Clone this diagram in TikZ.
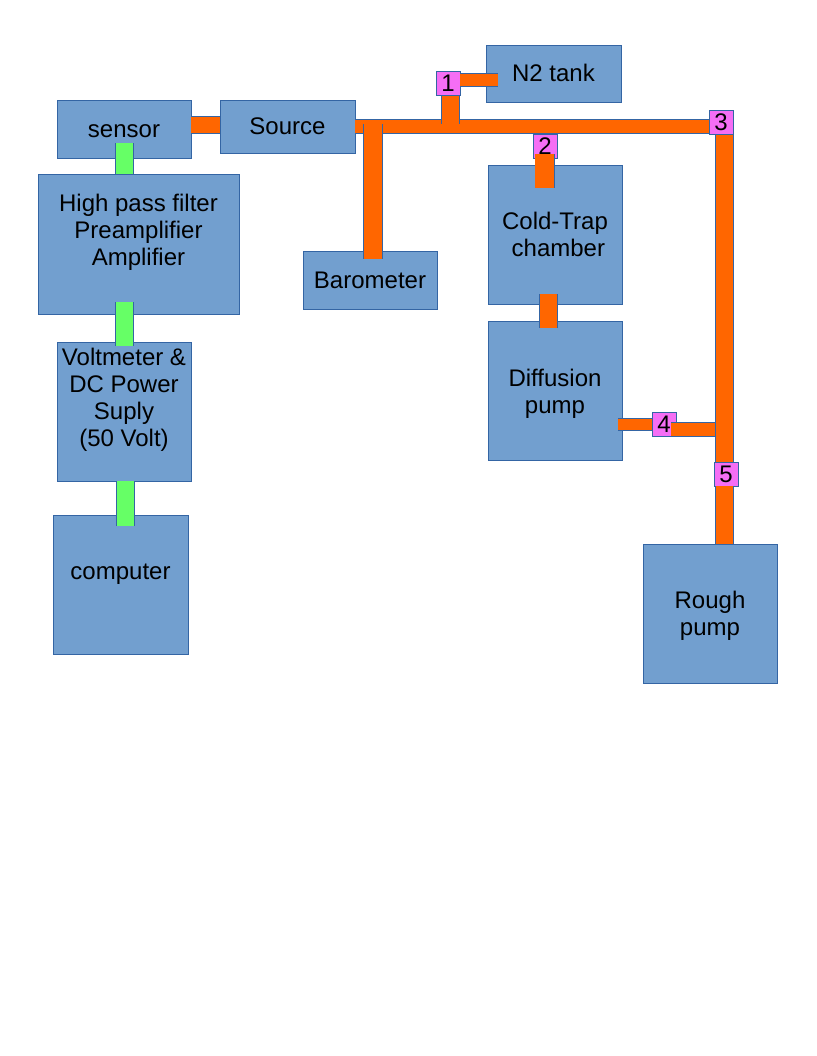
\documentclass[tikz,border=0pt]{standalone}
\usepackage{fontspec}
\setmainfont{Liberation Sans}
\usepackage{tikz}
\usetikzlibrary{positioning}
\usetikzlibrary{calc}
\definecolor{boxblue}{HTML}{729FCF}
\definecolor{boxedge}{HTML}{3465A4}
\definecolor{pipeorange}{HTML}{FF6600}
\definecolor{pipegreen}{HTML}{66FF66}
\definecolor{valvepink}{HTML}{F56EF5}
\newcommand{\ls}{\rule[-5.1pt]{0pt}{26.8pt}} % ascent + descent of one text line

\begin{document}
\begin{tikzpicture}[
            x = 1pt, y = -1pt, % pixel units, y going down
            node distance = 17pt, % gap between stacked boxes
            font = \fontsize{24}{27}\selectfont,
            opipe/.style = {draw = boxedge, line width = 0.6pt, double = pipeorange, double distance = #1},
            opipe/.default = 17.8pt,
            gpipe/.style = {draw = boxedge, line width = 0.6pt, double = pipegreen, double distance = 17.8pt}
        ]

        \tikzstyle{unit}=[
            draw = boxedge,
            fill = boxblue,
            line width = 0.8pt,
            inner sep = 0pt,
            align = center,
            minimum width = 134pt,
            minimum height = 139pt
        ]
        \tikzstyle{valve}=[
            draw = boxedge,
            fill = valvepink,
            line width = 0.8pt,
            inner sep = 0pt,
            minimum size = 24pt
        ]

        \useasboundingbox (0,0) rectangle (816,1056);

        % vacuum side
        \node[unit, minimum width = 135pt, minimum height = 53pt] (src) at (287.5,126.5) {\ls Source};
        \node[unit, minimum height = 58pt] (sensor) at (124,129) {\ls sensor};
        \node[unit, minimum width = 135pt, minimum height = 57pt] (n2) at (553.5,73.5) {\ls N2 tank};
        \node[unit, minimum height = 58pt] (baro) at (370,280) {\ls Barometer};
        \node[unit] (ct) at (555,234.5) {\ls Cold-Trap\\\hspace*{6.7pt}chamber\ls};
        \node[unit] (diff) [below = of ct] {\ls Diffusion\\pump\ls};
        \node[unit] (rough) at (710,613.5) {\ls Rough\\pump\ls};

        % electronics
        \node[unit, minimum width = 201pt, minimum height = 140pt] (hpf) at (138.5,244) {\ls High pass filter\\Preamplifier\\Amplifier\\\ls};
        \node[unit] (volt) at (124,411.5) {\ls Voltmeter \&\\DC Power\\Suply\\(50 Volt)\\\ls};
        \node[unit, minimum width = 135pt] (comp) at (120.5,584.5) {\ls computer\\\ls};

        % valves
        \node[valve] (v1) at (448,83.5) {1};
        \node[valve] (v2) at (545,146) {2};
        \node[valve] (v3) at (721,122.5) {3};
        \node[valve] (v4) at (664,424) {4};
        \node[valve] (v5) at (726,474) {5};

        % orange pipes
        \draw[opipe = 13.8pt] (src.east) -- (src.east -| v3.west);
        \draw[opipe = 16.8pt] ($(sensor.east)+(0,-4)$) -- ($(src.west)+(0,-1.5)$);
        \draw[opipe] ($(v1.south)+(2.5,0)$) -- ($(v1.south |- src.east)+(2.5,-2.5)$);
        \draw[opipe = 12.8pt] ($(v1.east)+(0,-3.5)$) -- ($(v1.east -| n2.west)+(12,-3.5)$);
        \draw[opipe = 18.8pt] ($(baro.north)+(3,8)$) -- ($(baro.north |- src.east)+(3,-2.5)$);
        \draw[opipe = 18.8pt] ($(v2.south)+(-0.5,-4)$) -- ($(v2.south |- ct.north)+(-0.5,23)$);
        \draw[opipe] ($(v5.north |- v3.south)+(-1.5,0)$) -- ($(v5.north)+(-1.5,0)$);
        \draw[opipe] ($(v5.south)+(-1.5,0)$) -- ($(v5.south |- rough.north)+(-1.5,0)$);
        \draw[opipe] ($(ct.south)+(-6.5,-10)$) -- ($(diff.north)+(-6.5,7)$);
        \draw[opipe = 11.8pt] ($(diff.east |- v4.west)+(-4,0.5)$) -- ($(v4.west)+(0,0.5)$);
        \draw[opipe = 13.8pt] ($(v4.east)+(-5,5.5)$) -- ($(v4.east -| v5.west)+(1,5.5)$);

        % green cables
        \draw[gpipe] ($(sensor.south)+(0.5,-15)$) -- ($(sensor.south |- hpf.north)+(0.5,0)$);
        \draw[gpipe] ($(hpf.south -| volt.north)+(0.5,-12)$) -- ($(volt.north)+(0.5,4)$);
        \draw[gpipe] ($(volt.south)+(1.5,0)$) -- ($(volt.south |- comp.north)+(1.5,11)$);

\end{tikzpicture}
\end{document}
